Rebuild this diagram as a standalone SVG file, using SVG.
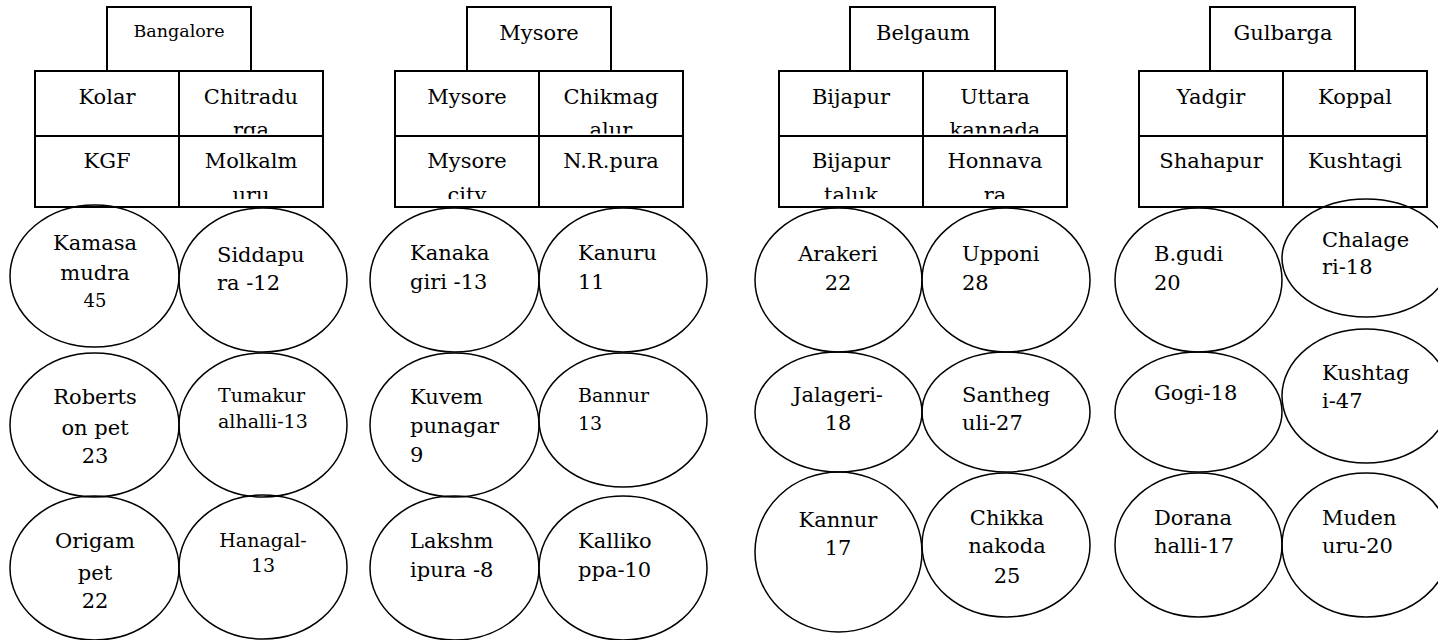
<svg xmlns="http://www.w3.org/2000/svg" width="1438" height="640" viewBox="0 0 1438 640">
<style>
.box{fill:none;stroke:#000;stroke-width:2}
.ell{fill:none;stroke:#000;stroke-width:1.5}
.t{font-family:"DejaVu Serif","Liberation Serif",serif;font-size:21px;fill:#000}
.c{text-anchor:middle}
.s{font-size:19px}
.h{font-size:17.5px}
.n{font-size:18px}
</style>
<defs>
<clipPath id="row1"><rect x="0" y="71" width="1438" height="62.5"/></clipPath>
<clipPath id="row2"><rect x="0" y="137" width="1438" height="62"/></clipPath>
</defs>
<rect width="1438" height="640" fill="#fff"/>
<g id="connectors"/>

<!-- Column 1 -->
<g id="hdr-bangalore"><path class="box" d="M107,71 V7 H251 V71"/><text class="t c h" x="179" y="37">Bangalore</text></g>
<g id="grid-bangalore"><rect class="box" x="35" y="71" width="288" height="136"/><line class="box" x1="179" y1="71" x2="179" y2="207"/><line class="box" x1="35" y1="136" x2="323" y2="136"/></g>
<g id="cell-kolar"><text class="t c" x="107" y="104">Kolar</text></g>
<g id="cell-chitradurga" clip-path="url(#row1)"><text class="t c" x="251" y="104">Chitradu</text><text class="t c" x="251" y="137">rga</text></g>
<g id="cell-kgf"><text class="t c" x="107" y="168">KGF</text></g>
<g id="cell-molkalmuru" clip-path="url(#row2)"><text class="t c" x="251" y="168">Molkalm</text><text class="t c" x="251" y="202">uru</text></g>
<g id="n-kamasamudra"><ellipse class="ell" cx="94.5" cy="276" rx="84.5" ry="71"/><text class="t c" x="95" y="250">Kamasa</text><text class="t c" x="95" y="280">mudra</text><text class="t c n" x="95" y="307">45</text></g>
<g id="n-siddapura"><ellipse class="ell" cx="263" cy="280" rx="84" ry="72"/><text class="t" x="217" y="262">Siddapu</text><text class="t" x="217" y="290">ra -12</text></g>
<g id="n-robertsonpet"><ellipse class="ell" cx="94.5" cy="425" rx="84.5" ry="72"/><text class="t c" x="95" y="404">Roberts</text><text class="t c" x="95" y="435">on pet</text><text class="t c" x="95" y="463">23</text></g>
<g id="n-tumakur"><ellipse class="ell" cx="263" cy="425" rx="84" ry="72"/><text class="t s" x="218" y="402">Tumakur</text><text class="t s" x="218" y="428">alhalli-13</text></g>
<g id="n-origampet"><ellipse class="ell" cx="94.5" cy="568" rx="84.5" ry="72"/><text class="t c" x="95" y="548">Origam</text><text class="t c" x="95" y="580">pet</text><text class="t c" x="95" y="608">22</text></g>
<g id="n-hanagal"><ellipse class="ell" cx="263" cy="567" rx="84" ry="72"/><text class="t c s" x="263" y="547">Hanagal-</text><text class="t c s" x="263" y="572">13</text></g>

<!-- Column 2 -->
<g id="hdr-mysore"><path class="box" d="M467,71 V7 H611 V71"/><text class="t c" x="539" y="40">Mysore</text></g>
<g id="grid-mysore"><rect class="box" x="395" y="71" width="288" height="136"/><line class="box" x1="539" y1="71" x2="539" y2="207"/><line class="box" x1="395" y1="136" x2="683" y2="136"/></g>
<g id="cell-mysore"><text class="t c" x="467" y="104">Mysore</text></g>
<g id="cell-chikmagalur" clip-path="url(#row1)"><text class="t c" x="611" y="104">Chikmag</text><text class="t c" x="611" y="137">alur</text></g>
<g id="cell-mysorecity" clip-path="url(#row2)"><text class="t c" x="467" y="168">Mysore</text><text class="t c" x="467" y="202">city</text></g>
<g id="cell-nrpura"><text class="t c" x="611" y="168">N.R.pura</text></g>
<g id="n-kanakagiri"><ellipse class="ell" cx="454.5" cy="280" rx="84.5" ry="72"/><text class="t" x="410" y="260">Kanaka</text><text class="t" x="410" y="289">giri -13</text></g>
<g id="n-kanuru"><ellipse class="ell" cx="623" cy="280" rx="84" ry="72"/><text class="t" x="578" y="260">Kanuru</text><text class="t" x="578" y="289">11</text></g>
<g id="n-kuvempunagar"><ellipse class="ell" cx="454.5" cy="425" rx="84.5" ry="72"/><text class="t" x="410" y="404">Kuvem</text><text class="t" x="410" y="433">punagar</text><text class="t" x="410" y="462">9</text></g>
<g id="n-bannur"><ellipse class="ell" cx="623" cy="420" rx="84" ry="67"/><text class="t s" x="578" y="402">Bannur</text><text class="t s" x="578" y="430">13</text></g>
<g id="n-lakshmipura"><ellipse class="ell" cx="454.5" cy="568" rx="84.5" ry="72"/><text class="t" x="410" y="548">Lakshm</text><text class="t" x="410" y="577">ipura -8</text></g>
<g id="n-kallikoppa"><ellipse class="ell" cx="623" cy="568" rx="84" ry="72"/><text class="t" x="578" y="548">Kalliko</text><text class="t" x="578" y="577">ppa-10</text></g>

<!-- Column 3 -->
<g id="hdr-belgaum"><path class="box" d="M850,71 V7 H995 V71"/><text class="t c" x="923" y="40">Belgaum</text></g>
<g id="grid-belgaum"><rect class="box" x="779" y="71" width="288" height="136"/><line class="box" x1="923" y1="71" x2="923" y2="207"/><line class="box" x1="779" y1="136" x2="1067" y2="136"/></g>
<g id="cell-bijapur"><text class="t c" x="851" y="104">Bijapur</text></g>
<g id="cell-uttarakannada" clip-path="url(#row1)"><text class="t c" x="995" y="104">Uttara</text><text class="t c" x="995" y="137">kannada</text></g>
<g id="cell-bijapurtaluk" clip-path="url(#row2)"><text class="t c" x="851" y="168">Bijapur</text><text class="t c" x="851" y="202">taluk</text></g>
<g id="cell-honnavara" clip-path="url(#row2)"><text class="t c" x="995" y="168">Honnava</text><text class="t c" x="995" y="202">ra</text></g>
<g id="n-arakeri"><ellipse class="ell" cx="838.5" cy="280" rx="83.5" ry="72"/><text class="t c" x="838" y="261">Arakeri</text><text class="t c" x="838" y="290">22</text></g>
<g id="n-upponi"><ellipse class="ell" cx="1006" cy="280" rx="84" ry="72"/><text class="t" x="962" y="261">Upponi</text><text class="t" x="962" y="290">28</text></g>
<g id="n-jalageri"><ellipse class="ell" cx="838.5" cy="412" rx="83.5" ry="60"/><text class="t c" x="838" y="402">Jalageri-</text><text class="t c" x="838" y="430">18</text></g>
<g id="n-santheguli"><ellipse class="ell" cx="1006" cy="412" rx="84" ry="60"/><text class="t" x="962" y="402">Santheg</text><text class="t" x="962" y="430">uli-27</text></g>
<g id="n-kannur"><ellipse class="ell" cx="838.5" cy="552" rx="83.5" ry="80"/><text class="t c" x="838" y="527">Kannur</text><text class="t c" x="838" y="555">17</text></g>
<g id="n-chikkanakoda"><ellipse class="ell" cx="1006" cy="545" rx="84" ry="72"/><text class="t c" x="1007" y="525">Chikka</text><text class="t c" x="1007" y="553">nakoda</text><text class="t c" x="1007" y="583">25</text></g>

<!-- Column 4 -->
<g id="hdr-gulbarga"><path class="box" d="M1210,71 V7 H1355 V71"/><text class="t c" x="1283" y="40">Gulbarga</text></g>
<g id="grid-gulbarga"><rect class="box" x="1139" y="71" width="288" height="136"/><line class="box" x1="1283" y1="71" x2="1283" y2="207"/><line class="box" x1="1139" y1="136" x2="1427" y2="136"/></g>
<g id="cell-yadgir"><text class="t c" x="1211" y="104">Yadgir</text></g>
<g id="cell-koppal"><text class="t c" x="1355" y="104">Koppal</text></g>
<g id="cell-shahapur"><text class="t c" x="1211" y="168">Shahapur</text></g>
<g id="cell-kushtagi"><text class="t c" x="1355" y="168">Kushtagi</text></g>
<g id="n-bgudi"><ellipse class="ell" cx="1198.5" cy="280" rx="83.5" ry="72"/><text class="t" x="1154" y="261">B.gudi</text><text class="t" x="1154" y="290">20</text></g>
<g id="n-chalageri"><ellipse class="ell" cx="1366" cy="258" rx="84" ry="59"/><text class="t" x="1322" y="247">Chalage</text><text class="t" x="1322" y="274">ri-18</text></g>
<g id="n-gogi"><ellipse class="ell" cx="1198.5" cy="412" rx="83.5" ry="60"/><text class="t" x="1154" y="400">Gogi-18</text></g>
<g id="n-kushtagi"><ellipse class="ell" cx="1366" cy="396" rx="84" ry="67"/><text class="t" x="1322" y="380">Kushtag</text><text class="t" x="1322" y="408">i-47</text></g>
<g id="n-doranahalli"><ellipse class="ell" cx="1198.5" cy="545" rx="83.5" ry="72"/><text class="t" x="1154" y="525">Dorana</text><text class="t" x="1154" y="553">halli-17</text></g>
<g id="n-mudenuru"><ellipse class="ell" cx="1366" cy="545" rx="84" ry="72"/><text class="t" x="1322" y="525">Muden</text><text class="t" x="1322" y="553">uru-20</text></g>
</svg>
